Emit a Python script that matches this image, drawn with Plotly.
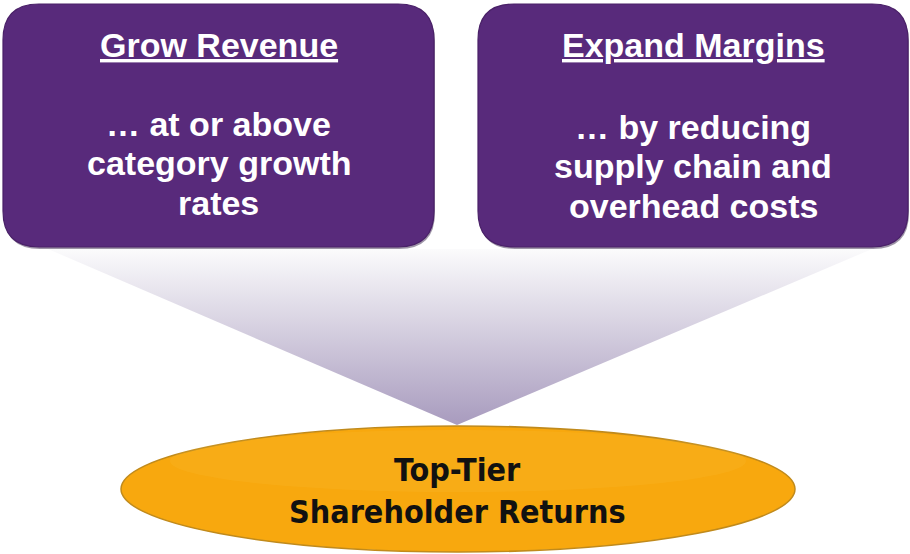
import numpy as np
import plotly.graph_objects as go

# ---- content ----
box_titles = ["Grow Revenue", "Expand Margins"]
box_bodies = [["… at or above", "category growth", "rates"],
              ["… by reducing", "supply chain and", "overhead costs"]]
result_lines = ["Top-Tier", "Shareholder Returns"]

W, H = 910, 554
boxes = [(3, 4, 434, 247), (478, 4, 908, 247)]
R = 36
PURPLE = "#582a7b"

def rrect(x0, y0, x1, y1, r):
    return (f"M{x0+r},{y0} L{x1-r},{y0} Q{x1},{y0} {x1},{y0+r} "
            f"L{x1},{y1-r} Q{x1},{y1} {x1-r},{y1} L{x0+r},{y1} "
            f"Q{x0},{y1} {x0},{y1-r} L{x0},{y0+r} Q{x0},{y0} {x0+r},{y0} Z")

fig = go.Figure()

# gradient funnel triangle
fig.add_trace(go.Scatter(
    x=[48, 872, 457, 48], y=[249, 249, 425, 249], mode="lines",
    line=dict(width=0), fill="toself",
    fillgradient=dict(type="vertical",
                      colorscale=[[0, "#a89bbe"], [1, "#fbfbfc"]]),
    hoverinfo="skip", showlegend=False))

shapes = []
for (x0, y0, x1, y1) in boxes:
    shapes.append(dict(type="path", path=rrect(x0 + 1, y0 + 2, x1 + 1, y1 + 2, R),
                       fillcolor="rgba(40,20,60,0.45)", line=dict(width=0), layer="above"))
    shapes.append(dict(type="path", path=rrect(x0, y0, x1, y1, R),
                       fillcolor=PURPLE, line=dict(color="#4a2168", width=1.2), layer="above"))

# ellipse
shapes.append(dict(type="circle", x0=121, y0=426, x1=795, y1=552,
                   fillcolor="#f8a80e", line=dict(color="#c08a1c", width=1.5), layer="above"))
shapes.append(dict(type="circle", x0=170, y0=430, x1=746, y1=492,
                   fillcolor="rgba(255,225,130,0.08)", line=dict(width=0), layer="above"))

annotations = []
FONT = "Liberation Sans, Arial"
body_y = [[124, 163, 203], [127, 166, 206]]
for (x0, y0, x1, y1), title, body, ys in zip(boxes, box_titles, box_bodies, body_y):
    cx = (x0 + x1) / 2
    annotations.append(dict(x=cx, y=45, text=f"<b><u>{title}</u></b>", showarrow=False,
                            font=dict(family=FONT, size=34, color="white"),
                            xanchor="center", yanchor="middle"))
    for line, yy in zip(body, ys):
        annotations.append(dict(x=cx, y=yy, text=f"<b>{line}</b>", showarrow=False,
                                font=dict(family=FONT, size=34, color="white"),
                                xanchor="center", yanchor="middle"))

for line, yy in zip(result_lines, [470, 512]):
    annotations.append(dict(x=457, y=yy, text=f"<b>{line}</b>", showarrow=False,
                            font=dict(family="Liberation Sans Narrow, DejaVu Sans Condensed, Liberation Sans",
                                      size=32, color="#111111"),
                            xanchor="center", yanchor="middle"))

fig.update_layout(
    width=W, height=H, margin=dict(l=0, r=0, t=0, b=0),
    paper_bgcolor="white", plot_bgcolor="white",
    xaxis=dict(range=[0, W], visible=False, fixedrange=True),
    yaxis=dict(range=[H, 0], visible=False, fixedrange=True),
    shapes=shapes, annotations=annotations, showlegend=False)

fig.write_html("out.html", config={"displayModeBar": False},
               post_script="document.body.style.margin='0';document.body.style.overflow='hidden';")
